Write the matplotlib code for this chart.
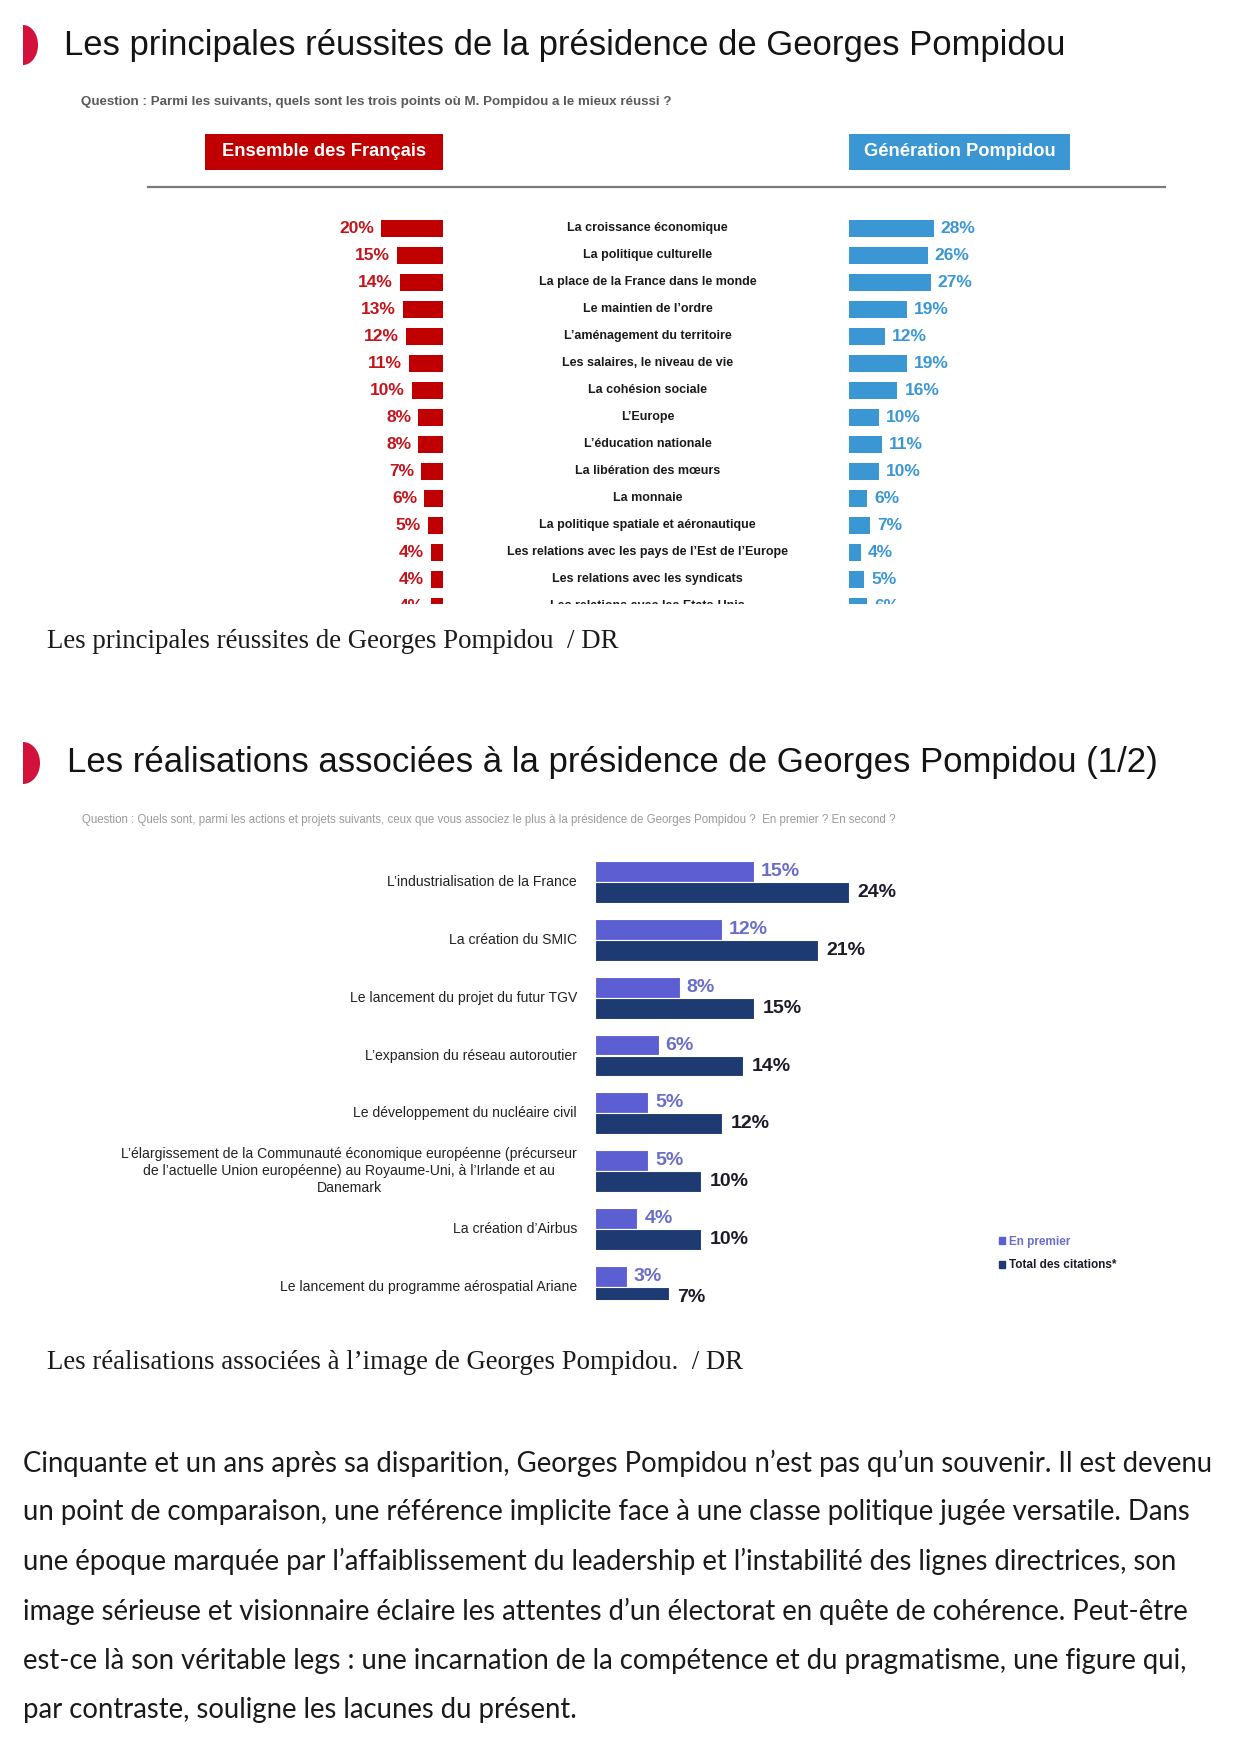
import numpy as np
import matplotlib
matplotlib.use("Agg")
import matplotlib.pyplot as plt
from matplotlib.transforms import Affine2D
from matplotlib.patches import Rectangle, Polygon, Patch
from matplotlib.lines import Line2D

# ---- data: chart 1 (principales réussites) ----
reussites = ["La croissance économique", "La politique culturelle",
             "La place de la France dans le monde", "Le maintien de l’ordre",
             "L’aménagement du territoire", "Les salaires, le niveau de vie",
             "La cohésion sociale", "L’Europe", "L’éducation nationale",
             "La libération des mœurs", "La monnaie",
             "La politique spatiale et aéronautique",
             "Les relations avec les pays de l’Est de l’Europe",
             "Les relations avec les syndicats",
             "Les relations avec les Etats-Unis"]
ensemble_francais = [20, 15, 14, 13, 12, 11, 10, 8, 8, 7, 6, 5, 4, 4, 4]
generation_pompidou = [28, 26, 27, 19, 12, 19, 16, 10, 11, 10, 6, 7, 4, 5, 6]

# ---- data: chart 2 (réalisations associées) ----
realisations = ["L’industrialisation de la France", "La création du SMIC",
                "Le lancement du projet du futur TGV",
                "L’expansion du réseau autoroutier",
                "Le développement du nucléaire civil",
                "L’élargissement de la Communauté économique européenne (précurseur\n"
                "de l’actuelle Union européenne) au Royaume-Uni, à l’Irlande et au\n"
                "Danemark",
                "La création d’Airbus",
                "Le lancement du programme aérospatial Ariane"]
en_premier = [15, 12, 8, 6, 5, 5, 4, 3]
total_citations = [24, 21, 15, 14, 12, 10, 10, 7]

paragraph = [
    "Cinquante et un ans après sa disparition, Georges Pompidou n’est pas qu’un souvenir. Il est devenu",
    "un point de comparaison, une référence implicite face à une classe politique jugée versatile. Dans",
    "une époque marquée par l’affaiblissement du leadership et l’instabilité des lignes directrices, son",
    "image sérieuse et visionnaire éclaire les attentes d’un électorat en quête de cohérence. Peut-être",
    "est-ce là son véritable legs : une incarnation de la compétence et du pragmatisme, une figure qui,",
    "par contraste, souligne les lacunes du présent.",
]

W, H = 1241, 1755
RED = "#c00000"
BLUE = "#3a97d4"
LIGHT = "#5c5fd2"
DARK = "#1e3a73"
SANS = ["Liberation Sans", "DejaVu Sans"]

fig = plt.figure(figsize=(W / 100, H / 100), dpi=100)
fig.patch.set_facecolor("white")
# pixel coordinates, origin top-left
px = Affine2D().scale(1 / W, -1 / H).translate(0, 1) + fig.transFigure


def axes_px(left, top, right, bottom):
    ax = fig.add_axes([left / W, 1 - bottom / H, (right - left) / W, (bottom - top) / H])
    ax.axis("off")
    return ax


def half_disc(x0, yc, rx, ry):
    t = np.linspace(-np.pi / 2, np.pi / 2, 60)
    pts = np.column_stack([x0 + rx * np.cos(t), yc + ry * np.sin(t)])
    fig.add_artist(Polygon(pts, closed=True, transform=px, color="#d3123b", lw=0))


# ---- titles ----
half_disc(23, 45, 15, 20)
fig.text(64, 45, "Les principales réussites de la présidence de Georges Pompidou",
         transform=px, fontsize=24.9, family=SANS, color="#141414", va="center")
fig.text(81, 102, "Question : Parmi les suivants, quels sont les trois points où M. Pompidou a le mieux réussi ?",
         transform=px, fontsize=9.6, family=SANS, weight="bold", color="#5a5a5a", va="center")

fig.add_artist(Rectangle((205, 134), 238, 36, transform=px, color=RED, lw=0))
fig.text(324, 152, "Ensemble des Français", transform=px, fontsize=13.2, family=SANS,
         weight="bold", color="white", ha="center", va="center")
fig.add_artist(Rectangle((849, 134), 221, 36, transform=px, color=BLUE, lw=0))
fig.text(959.5, 152, "Génération Pompidou", transform=px, fontsize=13.2, family=SANS,
         weight="bold", color="white", ha="center", va="center")
fig.add_artist(Line2D([148, 1165], [187, 187], transform=px, color="#7a7a7a", lw=1.6))

# ---- chart 1 ----
rows = np.arange(len(reussites))
ylim1 = (13.92, -0.58)

ax_r = axes_px(240, 212.5, 443, 604)
ax_r.barh(rows, ensemble_francais, height=0.62, color=RED)
ax_r.set_xlim(203 / 3.1, 0)
ax_r.set_ylim(*ylim1)
for i, v in zip(rows, ensemble_francais):
    ax_r.annotate(f"{v}%", (v, i), xytext=(-5, 0), textcoords="offset points",
                  ha="right", va="center", fontsize=12.5, weight="bold",
                  color="#c4141c", family=SANS, clip_on=True, annotation_clip=False)

ax_c = axes_px(450, 212.5, 845, 604)
ax_c.set_xlim(0, 1)
ax_c.set_ylim(*ylim1)
for i, lab in zip(rows, reussites):
    ax_c.text(0.5, i, lab, ha="center", va="center", fontsize=9.0, weight="bold",
              color="#1a1a1a", family=SANS, clip_on=True)

ax_b = axes_px(849, 212.5, 1010, 604)
ax_b.barh(rows, generation_pompidou, height=0.62, color=BLUE)
ax_b.set_xlim(0, 161 / 3.03)
ax_b.set_ylim(*ylim1)
for i, v in zip(rows, generation_pompidou):
    ax_b.annotate(f"{v}%", (v, i), xytext=(5, 0), textcoords="offset points",
                  ha="left", va="center", fontsize=12.5, weight="bold",
                  color=BLUE, family=SANS, clip_on=True, annotation_clip=False)

fig.text(47, 641, "Les principales réussites de Georges Pompidou  / DR", transform=px,
         fontsize=19.4, family="Liberation Serif", color="#1a1a1a", va="center")

# ---- second block ----
half_disc(23, 763, 17, 21)
fig.text(67, 763, "Les réalisations associées à la présidence de Georges Pompidou (1/2)",
         transform=px, fontsize=25, family=SANS, color="#141414", va="center")
fig.text(82, 820, "Question : Quels sont, parmi les actions et projets suivants, ceux que vous associez "
         "le plus à la présidence de Georges Pompidou ?  En premier ? En second ?",
         transform=px, fontsize=8.3, family=SANS, color="#9a9a9a", va="center")

groups = np.arange(len(realisations))
off = 0.182
ax2 = axes_px(595, 840, 1200, 1300)
ax2.barh(groups - off, en_premier, height=0.36, color=LIGHT, edgecolor="white", lw=0.8)
ax2.barh(groups + off, total_citations, height=0.36, color=DARK, edgecolor="white", lw=0.8)
ax2.set_xlim(0, 605 / 10.6)
ax2.set_ylim(7.23, -0.73)
for g, v in zip(groups, en_premier):
    ax2.annotate(f"{v}%", (v, g - off), xytext=(5, 0), textcoords="offset points",
                 ha="left", va="center", fontsize=14, weight="bold", color="#6a6ec9", family=SANS)
for g, v in zip(groups, total_citations):
    ax2.annotate(f"{v}%", (v, g + off), xytext=(6, 0), textcoords="offset points",
                 ha="left", va="center", fontsize=14, weight="bold", color="#1b1b2a", family=SANS)
for g, lab in zip(groups, realisations):
    ax2.annotate(lab, (0, g), xytext=(-13, 0), textcoords="offset points",
                 ha="right", va="center", multialignment="center", fontsize=10.1,
                 color="#222222", family=SANS, linespacing=1.3)

leg = fig.legend([Patch(color=LIGHT), Patch(color=DARK)], ["En premier", "Total des citations*"],
                 loc="upper left", bbox_to_anchor=(988 / W, 1 - 1225 / H), frameon=False,
                 handlelength=0.5, handleheight=0.5, handletextpad=0.4, labelspacing=1.0,
                 prop={"family": SANS, "weight": "bold", "size": 8.5})
leg.get_texts()[0].set_color("#6a6ec9")
leg.get_texts()[1].set_color("#1b1b2a")

fig.text(47, 1363, "Les réalisations associées à l’image de Georges Pompidou.  / DR", transform=px,
         fontsize=19.3, family="Liberation Serif", color="#1a1a1a", va="center")

# ---- body text ----
for k, line in enumerate(paragraph):
    fig.text(23, 1463 + 49.4 * k, line, transform=px, fontsize=19.8, family="Lato",
             color="#1a1a1a", va="center")

fig.savefig("out.png", dpi=100)
